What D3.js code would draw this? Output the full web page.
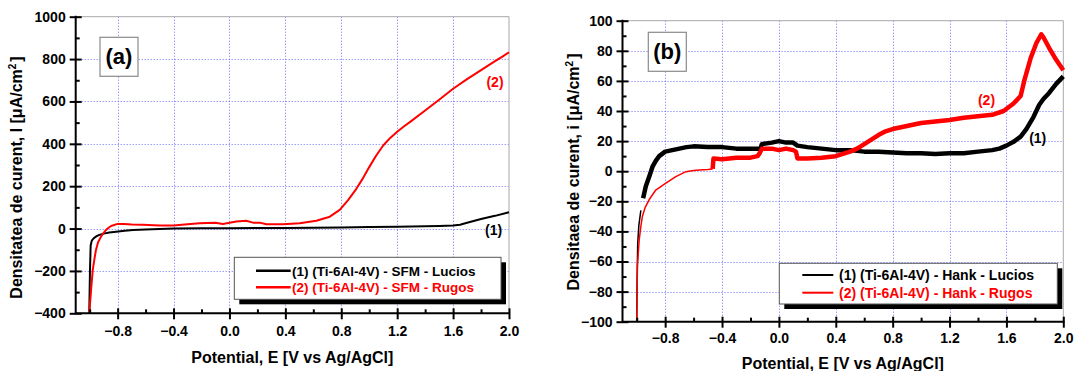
<!DOCTYPE html>
<html>
<head>
<meta charset="utf-8">
<script src="https://cdn.jsdelivr.net/npm/d3@7"></script>
<style>
  body { margin: 0; background: #fff; }
  svg { display: block; }
  text { font-family: "Liberation Sans", Arial, sans-serif; font-weight: bold; }
</style>
</head>
<body>
<svg id="chart" width="1074" height="371"></svg>
<script>
// potential axis (shared)
let xMajor = [-0.8, -0.4, 0.0, 0.4, 0.8, 1.2, 1.6, 2.0];
let xMinor = [-1.0, -0.6, -0.2, 0.2, 0.6, 1.0, 1.4, 1.8];

// panel (a) - SFM
let yMajorA = [-400, -200, 0, 200, 400, 600, 800, 1000];
let yMinorA = [-300, -100, 100, 300, 500, 700, 900];
let eLuciosA = [-1.003, -0.998, -0.993, -0.985, -0.97, -0.95, -0.931, -0.9, -0.86, -0.811, -0.75, -0.69, -0.6, -0.5, -0.4, -0.2, 0.0, 0.2, 0.4, 0.6, 0.8, 1.0, 1.2, 1.4, 1.5, 1.6, 1.65, 1.7, 1.8, 1.9, 2.0];
let iLuciosA = [-400, -200, -80, -57, -45, -36, -30, -24, -19, -14.6, -10, -6.6, -4, -2, 0, 1, 2, 3, 3, 4, 5, 7, 9, 11, 12, 14, 18, 27, 45, 60, 77];
let eRugosA = [-1.003, -0.99, -0.978, -0.965, -0.955, -0.94, -0.919, -0.9, -0.883, -0.865, -0.847, -0.8, -0.75, -0.7, -0.62, -0.5, -0.4, -0.3, -0.214, -0.1, -0.047, 0.049, 0.12, 0.168, 0.216, 0.264, 0.383, 0.502, 0.622, 0.718, 0.789, 0.85, 0.9, 0.95, 1.0, 1.05, 1.1, 1.15, 1.2, 1.25, 1.3, 1.4, 1.5, 1.6, 1.7, 1.8, 1.9, 1.95, 2.0];
let iRugosA = [-400, -290, -195, -140, -101, -65, -38, -20, -6.6, 4, 12, 22, 21, 19, 18, 14, 15, 20, 25, 27, 22, 33, 37, 28, 28, 20, 20, 25, 37, 56, 88, 135, 180, 232, 290, 345, 392, 428, 457, 483, 507, 557, 608, 660, 705, 748, 790, 810, 832];

// panel (b) - Hank
let yMajorB = [-100, -80, -60, -40, -20, 0, 20, 40, 60, 80, 100];
let yMinorB = [-90, -70, -50, -30, -10, 10, 30, 50, 70, 90];
let eLuciosB = [-1.0, -0.997, -0.993, -0.985, -0.971, -0.955, -0.936, -0.91, -0.889, -0.865, -0.842, -0.8, -0.75, -0.7, -0.65, -0.6, -0.5, -0.4, -0.3, -0.2, -0.13, -0.12, -0.05, 0.0, 0.05, 0.1, 0.13, 0.2, 0.3, 0.4, 0.5, 0.6, 0.7, 0.8, 0.9, 1.0, 1.1, 1.2, 1.3, 1.4, 1.5, 1.55, 1.6, 1.65, 1.7, 1.74, 1.79, 1.83, 1.86, 1.9, 1.95, 2.0];
let iLuciosB = [-100, -70, -48, -36, -26, -18, -10, -3, 3, 7, 10, 13, 14, 15, 16, 16.5, 16, 16, 15, 15, 15, 18, 19, 20, 19, 19, 17, 16, 15, 14, 14, 13, 13, 12.5, 12, 12, 11.5, 12, 12, 13, 14, 15, 17, 19.5, 23, 28, 36, 44, 48, 52, 58, 63];
let eRugosB = [-1.0, -0.995, -0.983, -0.97, -0.96, -0.94, -0.913, -0.866, -0.795, -0.725, -0.654, -0.6, -0.56, -0.5, -0.466, -0.46, -0.4, -0.3, -0.2, -0.15, -0.135, -0.12, -0.05, 0.0, 0.05, 0.1, 0.12, 0.13, 0.2, 0.3, 0.4, 0.5, 0.55, 0.6, 0.65, 0.7, 0.75, 0.8, 0.9, 1.0, 1.1, 1.2, 1.3, 1.4, 1.5, 1.58, 1.65, 1.7, 1.725, 1.77, 1.81, 1.845, 1.86, 1.9, 1.95, 2.0];
let iRugosB = [-100, -63, -46, -36, -30, -24, -19, -12.5, -8, -3.6, -0.3, 0.5, 0.8, 1.2, 1.5, 8.5, 8, 9, 9, 10, 12, 15, 15, 14, 15, 14, 13, 8.5, 8.5, 9, 10, 13, 15, 18, 21, 24, 26.5, 28, 30, 32, 33, 34, 35.5, 36.5, 37.5, 40, 45, 50, 60, 75, 85, 91, 89, 82, 74, 67];

const RED = "#ff0000";
const GRID = "#3c3cff";
let svg = d3.select("#chart");

function drawPanel(p) {
    let x = d3.scaleLinear().domain([-1.1, 2.0]).range([p.left, p.right]);
    let y = d3.scaleLinear().domain([p.yMajor[0], p.yMajor[p.yMajor.length - 1]]).range([p.bottom, p.top]);
    let g = svg.append("g");
    let snap = v => Math.round(v) + 0.5;

    // dotted grid
    g.append("g").selectAll("line").data(xMajor.filter(v => v < 2)).join("line")
        .attr("x1", d => snap(x(d))).attr("x2", d => snap(x(d)))
        .attr("y1", p.top).attr("y2", p.bottom)
        .attr("stroke", GRID).attr("stroke-dasharray", "1,2").attr("stroke-opacity", 0.75);
    g.append("g").selectAll("line").data(p.yMajor.slice(1, -1)).join("line")
        .attr("x1", p.left).attr("x2", p.right)
        .attr("y1", d => snap(y(d))).attr("y2", d => snap(y(d)))
        .attr("stroke", GRID).attr("stroke-dasharray", "1,2").attr("stroke-opacity", 0.75);

    // frame top / right
    g.append("path")
        .attr("d", `M${p.left},${p.top}H${p.right}V${p.bottom}`)
        .attr("fill", "none").attr("stroke", "#a8a8a8").attr("stroke-width", 1);

    // curves
    let line = d3.line().x(d => x(d[0])).y(d => y(d[1]));
    p.series.forEach(s => {
        let pts = s.e.map((e, i) => [e, s.i[i]]);
        let thin = pts.filter(d => d[0] <= s.cut);
        let noisy = pts.filter(d => d[0] >= s.cut);
        if (thin.length > 1) {
            g.append("path").attr("d", line(thin)).attr("fill", "none")
                .attr("stroke", s.color).attr("stroke-width", p.thinWidth)
                .attr("stroke-linejoin", "round");
        }
        if (noisy.length > 1) {
            g.append("path").attr("d", line(noisy)).attr("fill", "none")
                .attr("stroke", s.color).attr("stroke-width", p.noisyWidth)
                .attr("stroke-linejoin", "round");
        }
    });

    // axes: major ticks cross the axis line, minor ticks point inward
    let ax = g.append("g").attr("transform", "translate(0," + p.bottom + ")");
    ax.call(d3.axisBottom(x).tickValues(xMajor).tickFormat(d3.format(".1f"))
        .tickSize(6).tickSizeOuter(0).tickPadding(p.xPad));
    ax.selectAll(".tick line").attr("y1", -5);
    ax.append("g").attr("class", "minor")
        .call(d3.axisBottom(x).tickValues(xMinor).tickFormat(() => "").tickSize(-4).tickSizeOuter(0));

    let ay = g.append("g").attr("transform", "translate(" + p.left + ",0)");
    ay.call(d3.axisLeft(y).tickValues(p.yMajor).tickFormat(d3.format("d"))
        .tickSize(6).tickSizeOuter(0).tickPadding(4));
    ay.selectAll(".tick line").attr("x1", 6);
    ay.append("g").attr("class", "minor")
        .call(d3.axisLeft(y).tickValues(p.yMinor).tickFormat(() => "").tickSize(-4).tickSizeOuter(0));

    [ax, ay].forEach(a => {
        a.selectAll(".domain").remove();
        a.selectAll("line").attr("stroke", "#000").attr("stroke-width", 2);
        a.selectAll("text").attr("font-size", 14).attr("fill", "#000")
            .attr("font-weight", "bold")
            .attr("font-family", "'Liberation Sans', Arial, sans-serif");
    });
    g.append("path").attr("d", `M${p.left},${p.top - 1}V${p.bottom}H${p.right + 1}`)
        .attr("fill", "none").attr("stroke", "#000").attr("stroke-width", 2);

    // axis titles
    g.append("text").attr("x", (p.left + p.right) / 2).attr("y", p.xTitleY)
        .attr("text-anchor", "middle").attr("font-size", 16)
        .text("Potential, E [V vs Ag/AgCl]");
    let yt = g.append("text")
        .attr("transform", `translate(${p.yTitleX},${p.yTitleCY}) rotate(-90)`)
        .attr("text-anchor", "middle").attr("font-size", 16);
    yt.append("tspan").text(p.yTitle);
    yt.append("tspan").attr("dy", -6).attr("font-size", 10).text("2");
    yt.append("tspan").attr("dy", 6).attr("dx", 2).text("]");

    // panel tag
    let tag = g.append("g").attr("transform", `translate(${p.tag[0]},${p.tag[1]})`);
    tag.append("rect").attr("width", 38).attr("height", 39)
        .attr("fill", "#fff").attr("stroke", "#8a8a8a").attr("stroke-width", 1.2);
    tag.append("text").attr("x", 19).attr("y", 27).attr("text-anchor", "middle")
        .attr("font-size", 22).text(p.tagText);

    // curve labels
    p.notes.forEach(n => {
        g.append("text").attr("x", x(n.at[0])).attr("y", y(n.at[1])).attr("dy", "0.35em")
            .attr("text-anchor", "middle").attr("font-size", 14).attr("fill", n.color).text(n.text);
    });

    // legend with drop shadow
    let L = p.legend;
    let lg = g.append("g");
    lg.append("rect").attr("x", L.x + 5).attr("y", L.y + 5).attr("width", L.w).attr("height", L.h).attr("fill", "#000");
    lg.append("rect").attr("x", L.x).attr("y", L.y).attr("width", L.w).attr("height", L.h)
        .attr("fill", "#fff").attr("stroke", "#555").attr("stroke-width", 1);
    p.series.forEach((s, i) => {
        let ly = L.rows[i];
        lg.append("line").attr("x1", L.lx1).attr("x2", L.lx2).attr("y1", ly).attr("y2", ly)
            .attr("stroke", s.color).attr("stroke-width", p.legendLineWidth);
        lg.append("text").attr("x", L.tx).attr("y", ly).attr("dy", "0.36em")
            .attr("font-size", L.fs).attr("fill", s.color).text(s.label);
    });
}

drawPanel({
    left: 75.7, right: 509, top: 16.7, bottom: 313.3,
    yMajor: yMajorA, yMinor: yMinorA, xPad: 7,
    thinWidth: 2, noisyWidth: 2, legendLineWidth: 2.5,
    xTitleY: 363, yTitleX: 22, yTitleCY: 177.5,
    yTitle: "Densitatea de curent, I [\u03bcA/cm",
    tag: [100, 37.3], tagText: "(a)",
    series: [
        {e: eLuciosA, i: iLuciosA, color: "#000", cut: 9, label: "(1) (Ti-6Al-4V) - SFM - Lucios"},
        {e: eRugosA, i: iRugosA, color: RED, cut: 9, label: "(2) (Ti-6Al-4V) - SFM - Rugos"}
    ],
    notes: [
        {at: [1.90, 690], text: "(2)", color: RED},
        {at: [1.89, -7], text: "(1)", color: "#000"}
    ],
    legend: {x: 234.3, y: 257.3, w: 266.7, h: 42, lx1: 256, lx2: 290.7, tx: 292, rows: [270.7, 287.3], fs: 13.5}
});

drawPanel({
    left: 622.5, right: 1063.3, top: 20.7, bottom: 321.7,
    yMajor: yMajorB, yMinor: yMinorB, xPad: 5.5,
    thinWidth: 1.5, noisyWidth: 4.5, legendLineWidth: 2,
    xTitleY: 369, yTitleX: 579, yTitleCY: 172,
    yTitle: "Densitaea de curent, i [\u03bcA/cm",
    tag: [648.3, 32.3], tagText: "(b)",
    series: [
        {e: eLuciosB, i: iLuciosB, color: "#000", cut: -0.96, label: "(1) (Ti-6Al-4V) - Hank - Lucios"},
        {e: eRugosB, i: iRugosB, color: RED, cut: -0.466, label: "(2) (Ti-6Al-4V) - Hank - Rugos"}
    ],
    notes: [
        {at: [1.46, 47], text: "(2)", color: RED},
        {at: [1.82, 22], text: "(1)", color: "#000"}
    ],
    legend: {x: 779.3, y: 263.3, w: 278, h: 40.7, lx1: 802.3, lx2: 833.3, tx: 839, rows: [275, 292.7], fs: 14}
});
</script>
</body>
</html>
